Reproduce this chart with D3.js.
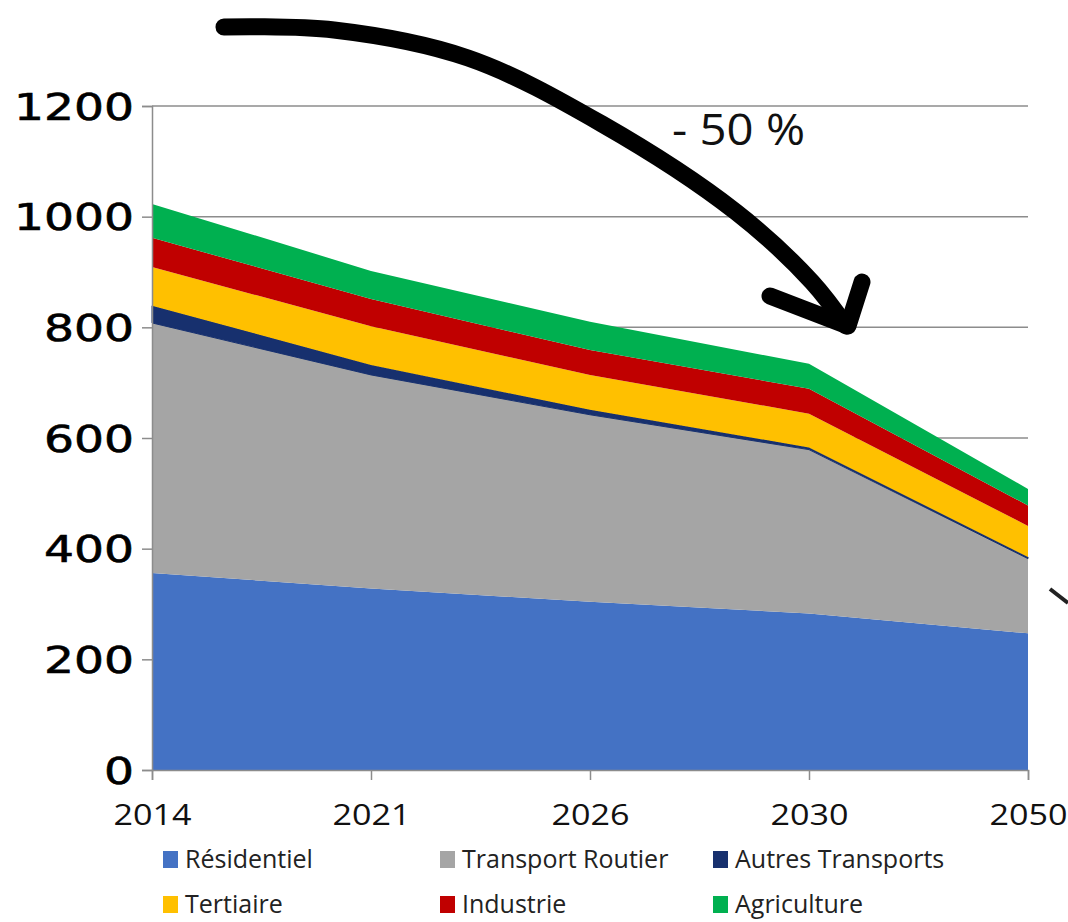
<!DOCTYPE html>
<html>
<head>
<meta charset="utf-8">
<script src="https://cdn.jsdelivr.net/npm/d3@7"></script>
<style>
  body { margin: 0; background: #fff; }
  svg { display: block; }
</style>
</head>
<body>
<div id="chart"></div>
<script>
// data
var years = ["2014", "2021", "2026", "2030", "2050"];
var residentiel = [356, 328, 304, 283, 247];
var transportRoutier = [452, 386, 338, 296, 135];
var autresTransports = [31, 18, 9, 4, 3];
var tertiaire = [70, 70, 63, 61, 56];
var industrie = [53, 49, 45, 45, 37];
var agriculture = [61, 51, 51, 45, 30];

var seriesNames = ["Résidentiel", "Transport Routier", "Autres Transports", "Tertiaire", "Industrie", "Agriculture"];
var seriesColors = ["#4472C4", "#A5A5A5", "#17306E", "#FFC000", "#C00000", "#00B050"];
var yTicks = [0, 200, 400, 600, 800, 1000, 1200];

var svgWidth = 1068;
var svgHeight = 922;

var margin = { top: 106, right: 40, bottom: 152, left: 152 };
var width = svgWidth - margin.left - margin.right;
var height = svgHeight - margin.top - margin.bottom;

var svg = d3.select("#chart")
  .append("svg")
  .attr("width", svgWidth)
  .attr("height", svgHeight);

var chartGroup = svg.append("g")
  .attr("transform", `translate(${margin.left}, ${margin.top})`);

// build table for the stack
var allSeries = [residentiel, transportRoutier, autresTransports, tertiaire, industrie, agriculture];
var table = years.map(function(y, i) {
  var row = { year: y };
  seriesNames.forEach(function(name, k) { row[name] = allSeries[k][i]; });
  return row;
});

var stacked = d3.stack().keys(seriesNames)(table);

var xScale = d3.scalePoint()
  .domain(years)
  .range([0, width]);

var yScale = d3.scaleLinear()
  .domain([0, 1200])
  .range([height, 0]);

// gridlines
chartGroup.append("g")
  .selectAll("line")
  .data(yTicks.filter(d => d > 0))
  .enter()
  .append("line")
  .attr("x1", 0)
  .attr("x2", width)
  .attr("y1", d => yScale(d))
  .attr("y2", d => yScale(d))
  .attr("stroke", "#8c8c8c")
  .attr("stroke-width", 1.5);

// areas
var area = d3.area()
  .x(d => xScale(d.data.year))
  .y0(d => yScale(d[0]))
  .y1(d => yScale(d[1]));

chartGroup.append("g")
  .selectAll("path")
  .data(stacked)
  .enter()
  .append("path")
  .attr("d", area)
  .attr("fill", (d, i) => seriesColors[i])
  .attr("stroke", (d, i) => i === 2 ? "#17306E" : "none")
  .attr("stroke-width", 1);

// y axis
var leftAxis = d3.axisLeft(yScale)
  .tickValues(yTicks)
  .tickSize(10)
  .tickPadding(8)
  .tickFormat(d3.format("d"));

var yAxis = chartGroup.append("g").call(leftAxis);
yAxis.select(".domain").attr("stroke", "#8c8c8c").attr("stroke-width", 1.5);
yAxis.selectAll(".tick line").attr("stroke", "#8c8c8c").attr("stroke-width", 1.5);
yAxis.selectAll(".tick text")
  .attr("font-family", "DejaVu Sans")
  .attr("font-size", 37)
  .attr("fill", "#000")
  .attr("stroke", "#000")
  .attr("stroke-width", 0.6)
  .attr("dy", "0.36em")
  .attr("textLength", d => String(d).length * 30)
  .attr("lengthAdjust", "spacingAndGlyphs");

// x axis
var bottomAxis = d3.axisBottom(xScale)
  .tickSize(10)
  .tickPadding(24);

var xAxis = chartGroup.append("g")
  .attr("transform", `translate(0, ${height})`)
  .call(bottomAxis);
xAxis.select(".domain").attr("stroke", "#8c8c8c").attr("stroke-width", 1.5);
xAxis.selectAll(".tick line").attr("stroke", "#8c8c8c").attr("stroke-width", 1.5);
xAxis.selectAll(".tick text")
  .attr("font-family", "Open Sans")
  .attr("font-size", 30)
  .attr("fill", "#111")
  .attr("textLength", 78)
  .attr("lengthAdjust", "spacingAndGlyphs");

// legend
var legendPos = [[163, 859], [440, 859], [713, 859], [163, 904], [440, 904], [713, 904]];
var legend = svg.append("g");
seriesNames.forEach(function(name, i) {
  var g = legend.append("g").attr("transform", `translate(${legendPos[i][0]}, ${legendPos[i][1]})`);
  g.append("rect")
    .attr("x", 0)
    .attr("y", -8)
    .attr("width", 15)
    .attr("height", 17)
    .attr("fill", seriesColors[i]);
  g.append("text")
    .attr("x", 22)
    .attr("y", 0)
    .attr("dy", "0.36em")
    .attr("font-family", "Open Sans")
    .attr("font-size", 25)
    .attr("fill", "#222")
    .text(name);
});

// hand drawn arrow
var arrowPts = [[224, 27], [334, 30], [468, 58], [602, 124], [736, 212], [812, 282], [846, 326]];
svg.append("path")
  .attr("d", d3.line().curve(d3.curveCatmullRom)(arrowPts))
  .attr("fill", "none")
  .attr("stroke", "#000")
  .attr("stroke-width", 17)
  .attr("stroke-linecap", "round");

svg.append("path")
  .attr("d", d3.line()([[770, 296], [848, 326], [862, 282]]))
  .attr("fill", "none")
  .attr("stroke", "#000")
  .attr("stroke-width", 17)
  .attr("stroke-linecap", "round")
  .attr("stroke-linejoin", "round");

svg.append("text")
  .attr("x", 672)
  .attr("y", 145)
  .attr("font-family", "Open Sans")
  .attr("font-size", 44)
  .attr("fill", "#111")
  .attr("textLength", 133)
  .attr("lengthAdjust", "spacingAndGlyphs")
  .text("- 50 %");

// small fragment at right edge
svg.append("line")
  .attr("x1", 1050).attr("y1", 589)
  .attr("x2", 1068).attr("y2", 603)
  .attr("stroke", "#222")
  .attr("stroke-width", 4);
</script>
</body>
</html>
